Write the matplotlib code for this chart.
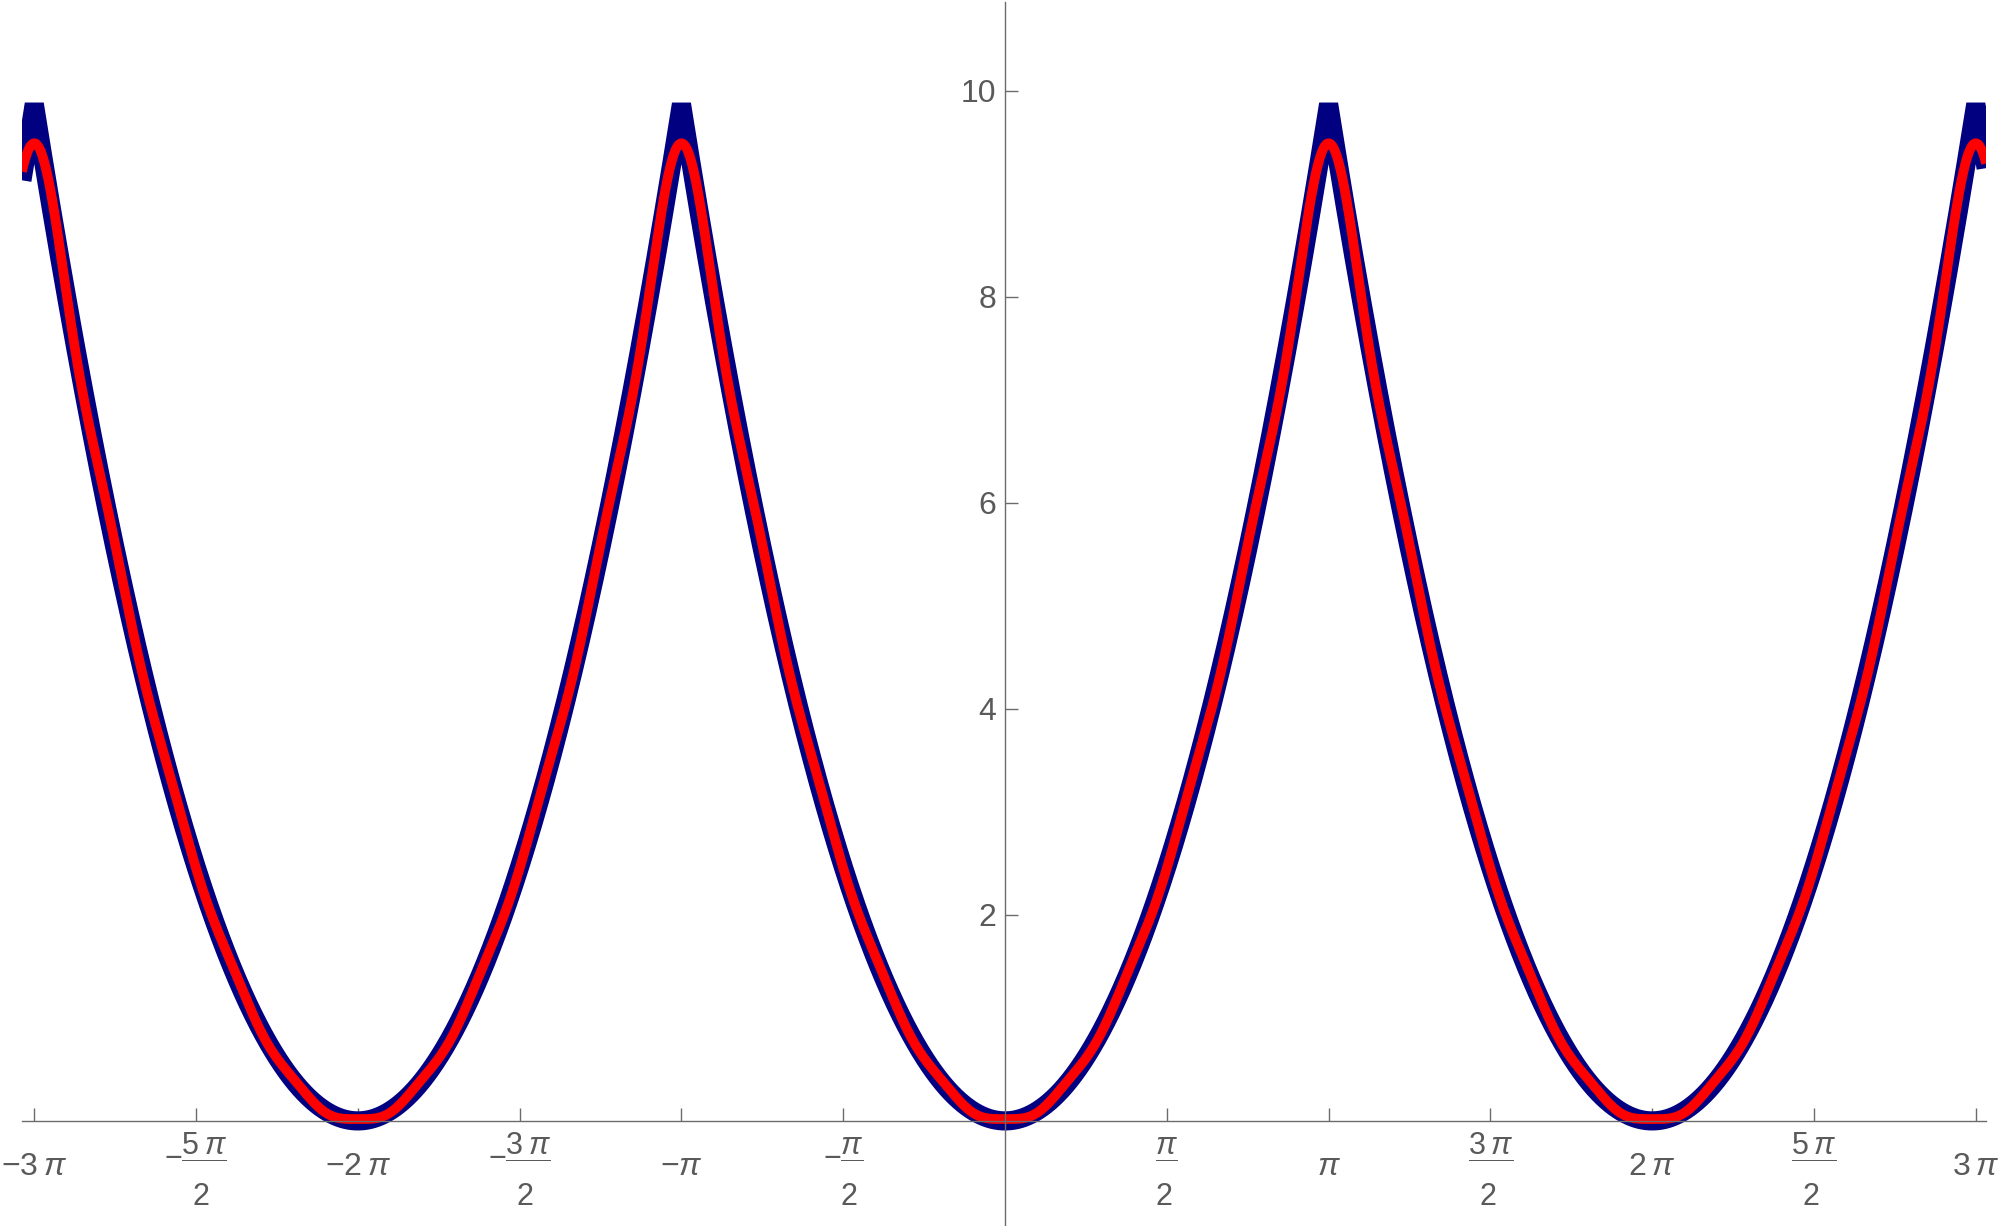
import numpy as np
import matplotlib
matplotlib.use("Agg")
import matplotlib.pyplot as plt
import matplotlib.transforms as mtransforms

plt.rcParams['font.family'] = ['Liberation Sans', 'DejaVu Sans']
plt.rcParams['mathtext.fontset'] = 'custom'
plt.rcParams['mathtext.rm'] = 'Liberation Sans'
plt.rcParams['mathtext.it'] = 'Liberation Sans:italic'
plt.rcParams['mathtext.sf'] = 'Liberation Sans'
plt.rcParams['mathtext.bf'] = 'Liberation Sans:bold'

# ---- chart content ----
PI = np.pi
x_min, x_max = -3 * PI - 0.3, 3 * PI + 0.3     # sampled domain
n_terms = 10                                  # Fourier terms of the red curve
peaks = [-3 * PI, -PI, PI, 3 * PI]

# denominator "2" set lower under the fraction bar (Mathematica-like spacing)
DEN2 = r'\genfrac{}{}{0}{0}{\genfrac{}{}{0}{0}{\hspace{0}}{\hspace{0}}}{2}'
x_tick_values = [k * PI / 2 for k in range(-6, 7) if k != 0]
x_tick_labels = [r'$-3\:\pi$',
                 r'$-\dfrac{5\:\pi}{%s}$' % DEN2,
                 r'$-2\:\pi$',
                 r'$-\dfrac{3\:\pi}{%s}$' % DEN2,
                 r'$-\pi$',
                 r'$-\dfrac{\pi}{%s}$' % DEN2,
                 r'$\dfrac{\pi}{%s}$' % DEN2,
                 r'$\pi$',
                 r'$\dfrac{3\:\pi}{%s}$' % DEN2,
                 r'$2\:\pi$',
                 r'$\dfrac{5\:\pi}{%s}$' % DEN2,
                 r'$3\:\pi$']
y_tick_values = [2, 4, 6, 8, 10]
y_tick_labels = ['2', '4', '6', '8', '10']

# exact periodic x^2 (blue) and its Fourier partial sum (red)
x_exact = np.sort(np.concatenate([np.linspace(x_min, x_max, 8001), peaks]))
xm = np.mod(x_exact + PI, 2 * PI) - PI
y_exact = xm ** 2

x_four = np.linspace(x_min, x_max, 8001)
y_four = np.full_like(x_four, PI ** 2 / 3)
for n in range(1, n_terms + 1):
    y_four += 4 * (-1) ** n * np.cos(n * x_four) / n ** 2

# ---- figure ----
W, H = 2000, 1226
fig = plt.figure(figsize=(W / 100, H / 100), dpi=100)
ax = fig.add_axes([22 / W, 0.0, (1986 - 22) / W, (1226 - 2) / H])

ax.plot(x_exact, y_exact, color='#000080', lw=13.8,
        solid_joinstyle='bevel', solid_capstyle='butt', zorder=2)
ax.plot(x_four, y_four, color='#ff0000', lw=7.0,
        solid_joinstyle='round', solid_capstyle='butt', zorder=3)

ax.set_xlim(-9.544, 9.524)
ax.set_ylim(-1.02, 10.86)

axis_col = '#6b6b6b'
text_col = '#5a5a5a'
for s in ['top', 'right']:
    ax.spines[s].set_visible(False)
ax.spines['left'].set_position(('data', 0))
ax.spines['bottom'].set_position(('data', 0))
for s in ['left', 'bottom']:
    ax.spines[s].set_color(axis_col)
    ax.spines[s].set_linewidth(1.0)
    ax.spines[s].set_zorder(4)

ax.set_xticks(x_tick_values)
ax.set_xticklabels(x_tick_labels)
ax.set_yticks(y_tick_values)
ax.set_yticklabels(y_tick_labels)

ax.tick_params(axis='x', direction='in', length=9.4, width=1.0, color=axis_col,
               labelsize=23, labelcolor=text_col, pad=38.9)
ax.tick_params(axis='y', direction='in', length=9.4, width=1.0, color=axis_col,
               labelsize=23, labelcolor=text_col, pad=6.5)
raise_frac = mtransforms.ScaledTranslation(0, 6 / 100, fig.dpi_scale_trans)
for lbl in ax.get_xticklabels():
    lbl.set_verticalalignment('baseline')
    if 'dfrac' in lbl.get_text():
        lbl.set_fontsize(22)
        lbl.set_transform(lbl.get_transform() + raise_frac)

fig.savefig('out.png', dpi=100, facecolor='white')
